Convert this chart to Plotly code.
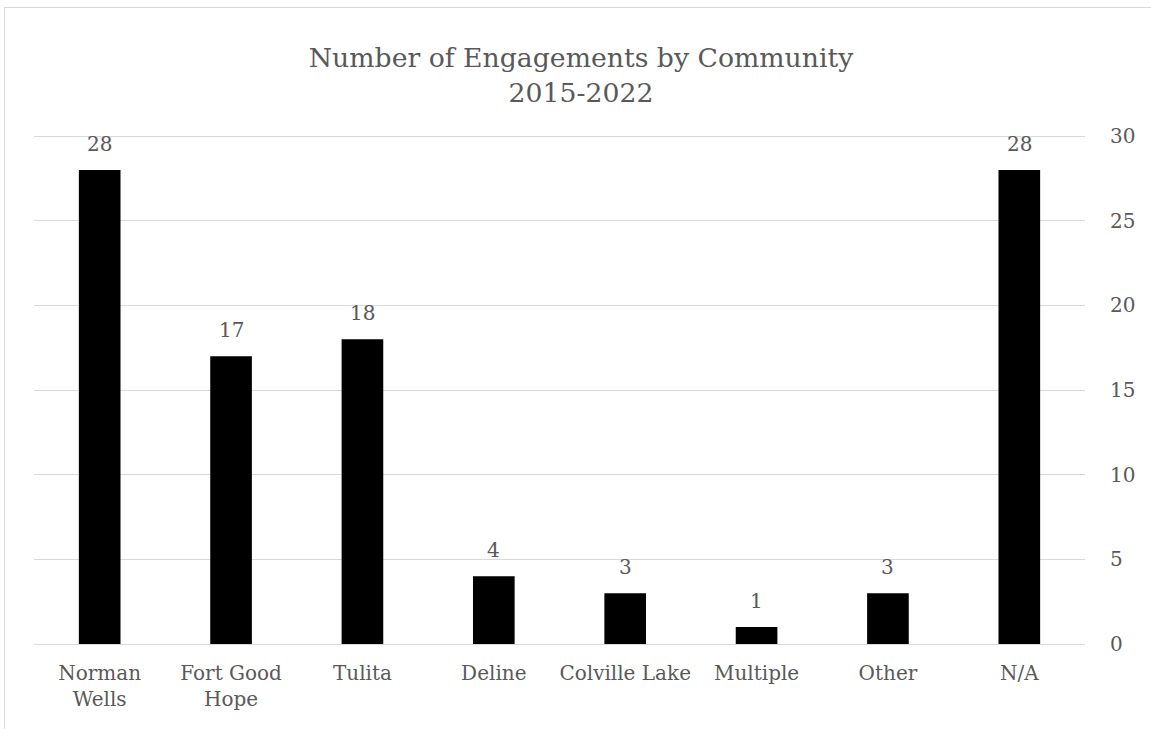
import plotly.graph_objects as go

categories = ["Norman<br>Wells", "Fort Good<br>Hope", "Tulita", "Deline", "Colville Lake", "Multiple", "Other", "N/A"]
values = [28, 17, 18, 4, 3, 1, 3, 28]
tick_vals = [0, 5, 10, 15, 20, 25, 30]

FONT = "DejaVu Serif"
GREY = "#595959"

W, H = 1151, 729
L, R, T, B = 34, 66, 135, 85
pw = W - L - R
ph = H - T - B

fig = go.Figure()
fig.add_trace(go.Bar(
    x=categories, y=values, marker=dict(color="#000000", line=dict(width=0)),
    width=0.317, hoverinfo="x+y",
))

for c, v in zip(categories, values):
    fig.add_annotation(x=c, y=v, text=str(v), showarrow=False, yanchor="bottom",
                       yshift=12, font=dict(family=FONT, size=20, color=GREY))

# chart-area border (light grey)
fig.add_shape(type="rect", xref="paper", yref="paper",
              x0=(4.5 - L) / pw, x1=(W + 10 - L) / pw,
              y0=-(H + 10 - (H - B)) / ph, y1=((H - B) - 7.5) / ph,
              line=dict(color="#d9d9d9", width=1), fillcolor="rgba(0,0,0,0)", layer="below")

fig.update_layout(
    width=W, height=H,
    margin=dict(l=L, r=R, t=T, b=B, autoexpand=False),
    paper_bgcolor="white", plot_bgcolor="white",
    showlegend=False,
    title=dict(text="Number of Engagements by Community<br>2015-2022",
               x=581 / W, xref="container", xanchor="center",
               y=1 - 67 / H, yref="container", yanchor="middle",
               font=dict(family=FONT, size=26.7, color=GREY)),
    font=dict(family=FONT, color=GREY),
)
fig.update_xaxes(showgrid=False, showline=False, ticks="",
                 tickfont=dict(family=FONT, size=20, color=GREY),
                 ticklabelstandoff=15, zeroline=False)
fig.update_yaxes(side="right", range=[0, 30.06], tickvals=tick_vals,
                 showgrid=True, gridcolor="#d9d9d9", gridwidth=1.3,
                 zeroline=True, zerolinecolor="#d9d9d9", zerolinewidth=1.3,
                 showline=False, ticks="", ticklabelstandoff=24,
                 tickfont=dict(family=FONT, size=20, color=GREY))

fig.write_html("out.html", config={"displayModeBar": False},
               post_script="document.body.style.margin='0';")
